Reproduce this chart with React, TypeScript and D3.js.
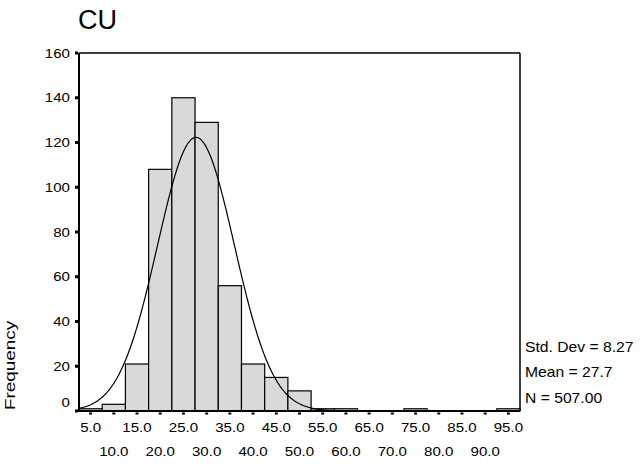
import React from 'react';
import * as d3 from 'd3';

const binCenters = [5, 10, 15, 20, 25, 30, 35, 40, 45, 50, 55, 60, 65, 70, 75, 80, 85, 90, 95];
const frequencies = [1, 3, 21, 108, 140, 129, 56, 21, 15, 9, 1, 1, 0, 0, 1, 0, 0, 0, 1];
const xTickLabels = ['5.0', '10.0', '15.0', '20.0', '25.0', '30.0', '35.0', '40.0', '45.0', '50.0', '55.0', '60.0', '65.0', '70.0', '75.0', '80.0', '85.0', '90.0', '95.0'];
const yTicks = [0, 20, 40, 60, 80, 100, 120, 140, 160];
const statLines = ['Std.  Dev = 8.27', 'Mean = 27.7', 'N = 507.00'];
const title = 'CU';
const yTitle = 'Frequency';
const mean = 27.7;
const sd = 8.27;
const nTotal = 507;
const binWidth = 5;

const FONT = '"Liberation Sans", Arial, sans-serif';

function Txt(props: { x: number; y: number; size: number; sx?: number; rot?: number; anchor?: string; children: React.ReactNode }) {
  const { x, y, size, sx = 1, rot = 0, anchor = 'start', children } = props;
  return (
    <text
      transform={`translate(${x},${y}) rotate(${rot}) scale(${sx},1)`}
      fontSize={size}
      fontFamily={FONT}
      textAnchor={anchor}
      fill="#000"
    >
      {children}
    </text>
  );
}

export default function App() {
  const left = 79, right = 520, top = 53, bottom = 411;
  const x = d3.scaleLinear().domain([binCenters[0] - binWidth / 2, binCenters[binCenters.length - 1] + binWidth / 2]).range([left, right]);
  const y = d3.scaleLinear().domain([0, 160]).range([bottom, top]);

  const pdf = (v: number) => (nTotal * binWidth) / (sd * Math.sqrt(2 * Math.PI)) * Math.exp(-((v - mean) ** 2) / (2 * sd * sd));
  const [d0, d1] = x.domain();
  const curvePts = d3.range(0, 401).map((i) => d0 + ((d1 - d0) * i) / 400);
  const line = d3.line<number>().x((v) => x(v)).y((v) => y(pdf(v))).curve(d3.curveLinear);

  return (
    <svg width={641} height={464} style={{ position: 'absolute', left: 0, top: 0, background: '#fff' }}>
      <rect x={0} y={0} width={641} height={464} fill="#fff" />
      <Txt x={78} y={29} size={27}>{title}</Txt>

      {binCenters.map((c, i) =>
        frequencies[i] > 0 ? (
          <rect
            key={c}
            x={x(c - binWidth / 2)}
            y={y(frequencies[i])}
            width={x(c + binWidth / 2) - x(c - binWidth / 2)}
            height={y(0) - y(frequencies[i])}
            fill="#d9d9d9"
            stroke="#000"
            strokeWidth={1.2}
          />
        ) : null
      )}

      <path d={line(curvePts) || ''} fill="none" stroke="#000" strokeWidth={1.2} />

      {/* frame */}
      <line x1={left} x2={right} y1={top} y2={top} stroke="#000" strokeWidth={1.5} />
      <line x1={right} x2={right} y1={top} y2={bottom} stroke="#000" strokeWidth={1.5} />
      <line x1={left} x2={left} y1={top} y2={bottom + 1} stroke="#000" strokeWidth={2} />
      <line x1={left - 1} x2={right} y1={bottom} y2={bottom} stroke="#000" strokeWidth={2} />

      {/* y ticks */}
      {yTicks.map((t) => (
        <g key={t}>
          <rect x={left - 4} y={y(t) - 1.5} width={3} height={3} fill="#000" />
          <Txt x={70} y={Math.min(y(t), 402) + 4.7} size={13} sx={1.16} anchor="end">{String(t)}</Txt>
        </g>
      ))}

      {/* x ticks */}
      {binCenters.map((c, i) => (
        <g key={c}>
          <rect x={x(c) - 1.5} y={bottom + 1.5} width={3} height={2} fill="#000" />
          <Txt x={x(c)} y={i % 2 === 0 ? 432 : 456} size={13} sx={1.16} anchor="middle">{xTickLabels[i]}</Txt>
        </g>
      ))}

      <Txt x={15} y={410} size={14} sx={1.35} rot={-90}>{yTitle}</Txt>

      {statLines.map((s, i) => (
        <Txt key={s} x={525} y={[352, 377, 403][i]} size={14} sx={1.12}>{s}</Txt>
      ))}
    </svg>
  );
}
